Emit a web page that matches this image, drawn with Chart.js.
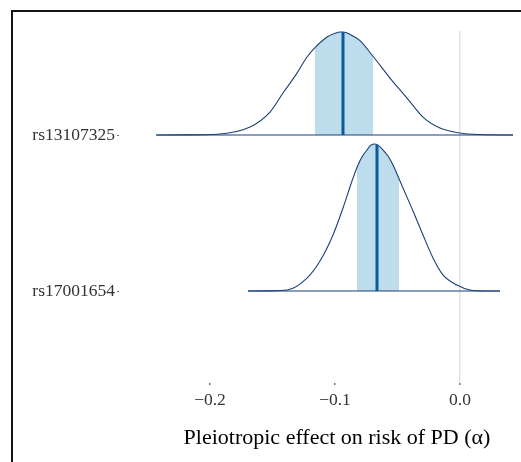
<!DOCTYPE html>
<html>
<head>
<meta charset="utf-8">
<script src="https://cdn.jsdelivr.net/npm/chart.js@4"></script>
<style>
  html, body { margin: 0; padding: 0; background: #fff; overflow: hidden; width: 521px; height: 462px; }
  #wrap { position: absolute; left: 0; top: 0; width: 560px; height: 462px; }
  #frame { position: absolute; left: 11px; top: 10px; width: 600px; height: 600px;
           border-left: 2px solid #141414; border-top: 2px solid #141414; pointer-events: none; }
</style>
</head>
<body>
<div id="wrap"><canvas id="c" width="560" height="462"></canvas></div>
<div id="frame"></div>
<script>
// Row labels, bottom to top (row 1, row 2)
const rowLabels = ['rs17001654', 'rs13107325'];

// x-axis ticks
const xTickValues = [-0.2, -0.1, 0.0];
const xTickLabels = ['\u22120.2', '\u22120.1', '0.0'];

// rs13107325: posterior density of alpha (ridge height in row units)
const topX = [-0.243, -0.22, -0.194, -0.168, -0.152, -0.1416, -0.1304, -0.1224, -0.116, -0.1064,
              -0.1, -0.096, -0.0936, -0.0856, -0.08, -0.0696, -0.056, -0.0424, -0.0296, -0.016, 0.0, 0.016, 0.0424];
const topDensity = [0, 0.001, 0.005, 0.051, 0.147, 0.269, 0.397, 0.5, 0.56, 0.628,
                    0.652, 0.66, 0.66, 0.635, 0.605, 0.505, 0.365, 0.237, 0.115, 0.045, 0.013, 0.003, 0];
const topInterval = [-0.116, -0.0696];
const topMedian = -0.0936;

// rs17001654: posterior density of alpha (ridge height in row units)
const botX = [-0.1696, -0.152, -0.1384, -0.1224, -0.112, -0.1016, -0.0936, -0.0864, -0.0816, -0.0776,
              -0.0744, -0.072, -0.0688, -0.0656, -0.0616, -0.0576, -0.0536, -0.0456, -0.0376, -0.0296,
              -0.0216, -0.0136, -0.0024, 0.008, 0.02, 0.032];
const botDensity = [0, 0.001, 0.006, 0.083, 0.192, 0.359, 0.532, 0.705, 0.808, 0.87,
                    0.904, 0.93, 0.942, 0.935, 0.904, 0.865, 0.808, 0.66, 0.513, 0.359,
                    0.212, 0.103, 0.038, 0.006, 0, 0];
const botInterval = [-0.0824, -0.0488];
const botMedian = -0.0664;

const FILL = '#bddcec';
const OUTLINE = '#1a3f78';
const MEDIAN = '#0b5b9c';

function heightAt(xs, ds, x) {
  for (let i = 0; i < xs.length - 1; i++) {
    if (x >= xs[i] && x <= xs[i + 1]) {
      const t = (x - xs[i]) / (xs[i + 1] - xs[i]);
      return ds[i] + t * (ds[i + 1] - ds[i]);
    }
  }
  return 0;
}

function ridge(xs, ds, base, interval, median) {
  const pts = xs.map((x, i) => ({ x: x, y: base + ds[i] }));
  return [
    { data: pts, fill: { value: base }, backgroundColor: FILL, borderWidth: 0,
      pointRadius: 0, cubicInterpolationMode: 'monotone', clipRange: interval, order: 4 },
    { data: [{ x: xs[0], y: base }, { x: xs[xs.length - 1], y: base }],
      borderColor: OUTLINE, borderWidth: 1.2, pointRadius: 0, fill: false, order: 3 },
    { data: pts, borderColor: OUTLINE, borderWidth: 1.1, pointRadius: 0, fill: false,
      cubicInterpolationMode: 'monotone', order: 2 },
    { data: [{ x: median, y: base }, { x: median, y: base + heightAt(xs, ds, median) }],
      borderColor: MEDIAN, borderWidth: 3, pointRadius: 0, fill: false, order: 1 }
  ];
}

// Restricts the shaded area of a ridge to its credible interval
const intervalClip = {
  id: 'intervalClip',
  beforeDatasetDraw(chart, args) {
    const ds = chart.data.datasets[args.index];
    if (!ds.clipRange) return;
    const xs = chart.scales.x, a = chart.chartArea, ctx = chart.ctx;
    const x0 = xs.getPixelForValue(ds.clipRange[0]);
    const x1 = xs.getPixelForValue(ds.clipRange[1]);
    ctx.save();
    ctx.beginPath();
    ctx.rect(x0, a.top, x1 - x0, a.bottom - a.top);
    ctx.clip();
  },
  afterDatasetDraw(chart, args) {
    const ds = chart.data.datasets[args.index];
    if (ds.clipRange) chart.ctx.restore();
  }
};

// The clip has to be set up before the filler paints, so it goes ahead of it in the registry
const fillerPlugin = Chart.registry.getPlugin('filler');
Chart.unregister(fillerPlugin);
Chart.register(intervalClip);
Chart.register(fillerPlugin);

Chart.defaults.font.family = "'Liberation Serif', 'Times New Roman', serif";

new Chart(document.getElementById('c'), {
  type: 'line',
  data: {
    datasets: [
      ...ridge(topX, topDensity, 2, topInterval, topMedian),
      ...ridge(botX, botDensity, 1, botInterval, botMedian)
    ]
  },
  options: {
    responsive: false,
    animation: false,
    devicePixelRatio: 1,
    layout: { padding: { top: 31, right: 5, bottom: 0, left: 0 } },
    plugins: { legend: { display: false }, tooltip: { enabled: false } },
    scales: {
      x: {
        type: 'linear',
        min: -0.2728,
        max: 0.076,
        afterBuildTicks: s => { s.ticks = xTickValues.map(v => ({ value: v })); },
        afterFit: s => { s.height = 79; },
        grid: {
          color: c => (c.tick && c.tick.value === 0) ? '#e3e3e3' : 'rgba(0,0,0,0)',
          lineWidth: 1.5,
          tickColor: '#777',
          tickLength: 2,
          drawTicks: true
        },
        border: { display: false },
        ticks: {
          color: '#333',
          font: { size: 17.5 },
          padding: 5,
          maxRotation: 0,
          callback: v => xTickLabels[xTickValues.indexOf(v)]
        },
        title: {
          display: true,
          text: 'Pleiotropic effect on risk of PD (\u03b1)',
          color: '#000',
          font: { size: 22 },
          padding: { top: 0, bottom: 11 }
        }
      },
      y: {
        type: 'linear',
        min: 0.4103,
        max: 2.6667,
        afterBuildTicks: s => { s.ticks = [{ value: 1 }, { value: 2 }]; },
        afterFit: s => { s.width = 119; },
        grid: { drawOnChartArea: false, tickColor: '#777', tickLength: 2 },
        border: { display: false },
        ticks: {
          color: '#333',
          font: { size: 17.5 },
          padding: 2,
          callback: v => rowLabels[v - 1]
        }
      }
    }
  },
  plugins: []
});
</script>
</body>
</html>
